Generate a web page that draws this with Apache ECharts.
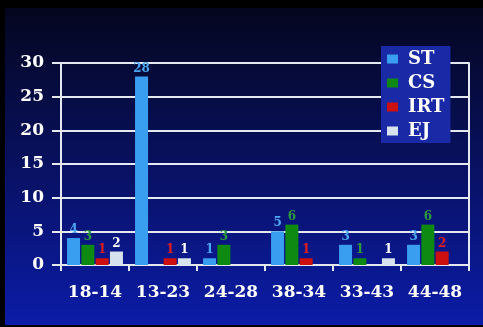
<!DOCTYPE html>
<html>
<head>
<meta charset="utf-8">
<script src="https://cdn.jsdelivr.net/npm/echarts@6/dist/echarts.min.js"></script>
<style>
  html, body { margin: 0; padding: 0; background: #000; }
  #slide { position: absolute; left: 5px; top: 8px; width: 478px; height: 317px; }
</style>
</head>
<body>
<div id="slide"></div>
<script>
const categories = ['18-14', '13-23', '24-28', '38-34', '33-43', '44-48'];
const stValues = [4, 28, 1, 5, 3, 3];
const csValues = [3, 0, 3, 6, 1, 6];
const irtValues = [1, 1, 0, 1, 0, 2];
const ejValues = [2, 1, 0, 0, 1, 0];
const yTicks = [0, 5, 10, 15, 20, 25, 30];

const serif = 'DejaVu Serif';
const lineColor = '#e4e8f0';

// one bar series; zero values get no label
function barSeries(name, data, color, labelColor) {
  return {
    name: name,
    type: 'bar',
    data: data,
    barWidth: 13,
    barGap: '10%',
    itemStyle: { color: color },
    label: {
      show: true,
      position: 'top',
      distance: 2,
      color: labelColor,
      fontFamily: serif,
      fontWeight: 'bold',
      fontSize: 12,
      formatter: p => (p.value ? String(p.value) : '')
    }
  };
}

const chart = echarts.init(document.getElementById('slide'));
chart.setOption({
  backgroundColor: {
    type: 'linear', x: 0, y: 0, x2: 0, y2: 1,
    colorStops: [
      { offset: 0, color: '#04061e' },
      { offset: 0.45, color: '#08105a' },
      { offset: 1, color: '#0b1ca8' }
    ]
  },
  animation: false,
  grid: { left: 56, right: 14, top: 55, bottom: 60 },
  legend: {
    orient: 'vertical',
    left: 376,
    top: 38,
    padding: [4, 6, 3, 6],
    backgroundColor: '#1a2aa6',
    icon: 'rect',
    itemWidth: 11,
    itemHeight: 9,
    itemGap: 6,
    textStyle: {
      color: '#fff', fontFamily: serif, fontWeight: 'bold', fontSize: 18,
      lineHeight: 18, padding: [0, 0, 0, 5]
    },
    data: ['ST', 'CS', 'IRT', 'EJ']
  },
  xAxis: {
    type: 'category',
    data: categories,
    axisLine: { lineStyle: { color: lineColor, width: 2 } },
    axisTick: { show: true, length: 6, lineStyle: { color: lineColor, width: 2 } },
    axisLabel: {
      interval: 0,
      color: '#fff', fontFamily: serif, fontWeight: 'bold', fontSize: 17, margin: 19
    }
  },
  yAxis: [
    {
      type: 'value',
      min: yTicks[0],
      max: yTicks[yTicks.length - 1],
      interval: 5,
      axisLine: { show: true, lineStyle: { color: lineColor, width: 2 } },
      axisTick: { show: true, length: 9, lineStyle: { color: lineColor, width: 2 } },
      splitLine: { lineStyle: { color: lineColor, width: 2 } },
      axisLabel: {
        color: '#fff', fontFamily: serif, fontWeight: 'bold', fontSize: 17, margin: 17
      }
    },
    {
      type: 'value',
      position: 'right',
      min: yTicks[0],
      max: yTicks[yTicks.length - 1],
      interval: 5,
      axisLine: { show: true, lineStyle: { color: lineColor, width: 2 } },
      axisTick: { show: false },
      axisLabel: { show: false },
      splitLine: { show: false }
    }
  ],
  series: [
    barSeries('ST', stValues, '#3a9ef0', '#4aa6f2'),
    barSeries('CS', csValues, '#0e8a12', '#2a9a3a'),
    barSeries('IRT', irtValues, '#cc1010', '#e01c1c'),
    barSeries('EJ', ejValues, '#d6e2ee', '#ffffff')
  ]
});
</script>
</body>
</html>
